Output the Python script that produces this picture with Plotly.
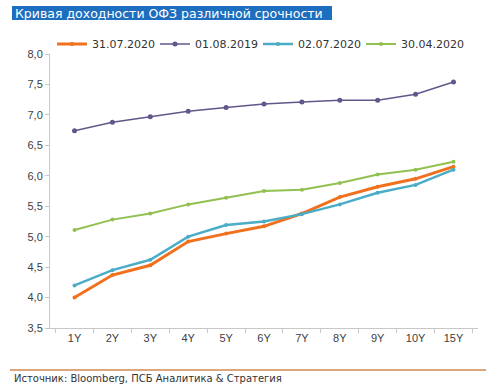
import plotly.graph_objects as go

categories = ["1Y", "2Y", "3Y", "4Y", "5Y", "6Y", "7Y", "8Y", "9Y", "10Y", "15Y"]
s_310720 = [4.00, 4.37, 4.53, 4.92, 5.05, 5.17, 5.38, 5.65, 5.82, 5.95, 6.15]
s_010819 = [6.74, 6.88, 6.97, 7.06, 7.12, 7.18, 7.21, 7.24, 7.24, 7.34, 7.54]
s_020720 = [4.20, 4.45, 4.62, 5.00, 5.19, 5.25, 5.37, 5.53, 5.72, 5.85, 6.10]
s_300420 = [5.11, 5.28, 5.38, 5.53, 5.64, 5.75, 5.77, 5.88, 6.02, 6.10, 6.23]

W, H = 486, 385
L, R, T, B = 50, 8, 54, 57
pw, ph = W - L - R, H - T - B

def px(x):
    return (x - L) / pw

def py(y):
    return (H - B - y) / ph

fig = go.Figure()
series = [
    ("31.07.2020", s_310720, "#F0701E", 3, 4),
    ("01.08.2019", s_010819, "#63568A", 1.5, 5),
    ("02.07.2020", s_020720, "#4AACC6", 2.5, 4),
    ("30.04.2020", s_300420, "#92C050", 2, 4),
]
for name, vals, col, w, ms in series:
    fig.add_trace(go.Scatter(
        x=categories, y=vals, name=name, mode="lines+markers",
        line=dict(color=col, width=w),
        marker=dict(color=col, size=ms, symbol="circle"),
    ))

fig.update_layout(
    width=W, height=H,
    margin=dict(l=L, r=R, t=T, b=B),
    paper_bgcolor="white", plot_bgcolor="white",
    font=dict(family="Liberation Sans, Arial, sans-serif", size=11, color="#404040"),
    separators=", ",
    showlegend=True,
    legend=dict(
        orientation="h", x=px(52), y=py(44), xanchor="left", yanchor="middle",
        font=dict(family="DejaVu Sans", size=11, color="#333333"), itemwidth=30,
        entrywidth=58, entrywidthmode="pixels",
        bgcolor="rgba(0,0,0,0)", tracegroupgap=0,
    ),
    xaxis=dict(
        type="category", showgrid=False, showline=True, linecolor="#C8C8C8",
        linewidth=1, ticks="outside", tickson="boundaries", ticklen=4,
        tickcolor="#C8C8C8", tickfont=dict(size=11, color="#404040"),
        zeroline=False,
    ),
    yaxis=dict(
        range=[3.5, 8.0], dtick=0.5, tickformat=".1f", showgrid=False,
        showline=True, linecolor="#C8C8C8", linewidth=1, ticks="outside",
        ticklen=4, tickcolor="#C8C8C8", tickfont=dict(size=11, color="#404040"),
        zeroline=False,
    ),
    shapes=[
        dict(type="rect", xref="paper", yref="paper",
             x0=px(12), x1=px(332), y0=py(20), y1=py(6),
             fillcolor="#1E6EC0", line=dict(width=0), layer="above"),
        dict(type="line", xref="paper", yref="paper",
             x0=px(10), x1=px(486), y0=py(370), y1=py(370),
             line=dict(color="#D08A50", width=1.5)),
    ],
    annotations=[
        dict(text="Кривая доходности ОФЗ различной срочности",
             xref="paper", yref="paper", x=px(13), y=py(13),
             xanchor="left", yanchor="middle", showarrow=False,
             font=dict(family="DejaVu Sans", size=12.5, color="white")),
        dict(text="Источник: Bloomberg, ПСБ Аналитика & Стратегия",
             xref="paper", yref="paper", x=px(12), y=py(378),
             xanchor="left", yanchor="middle", showarrow=False,
             font=dict(family="DejaVu Sans", size=10, color="#333333")),
    ],
)

fig.write_html("out.html")
